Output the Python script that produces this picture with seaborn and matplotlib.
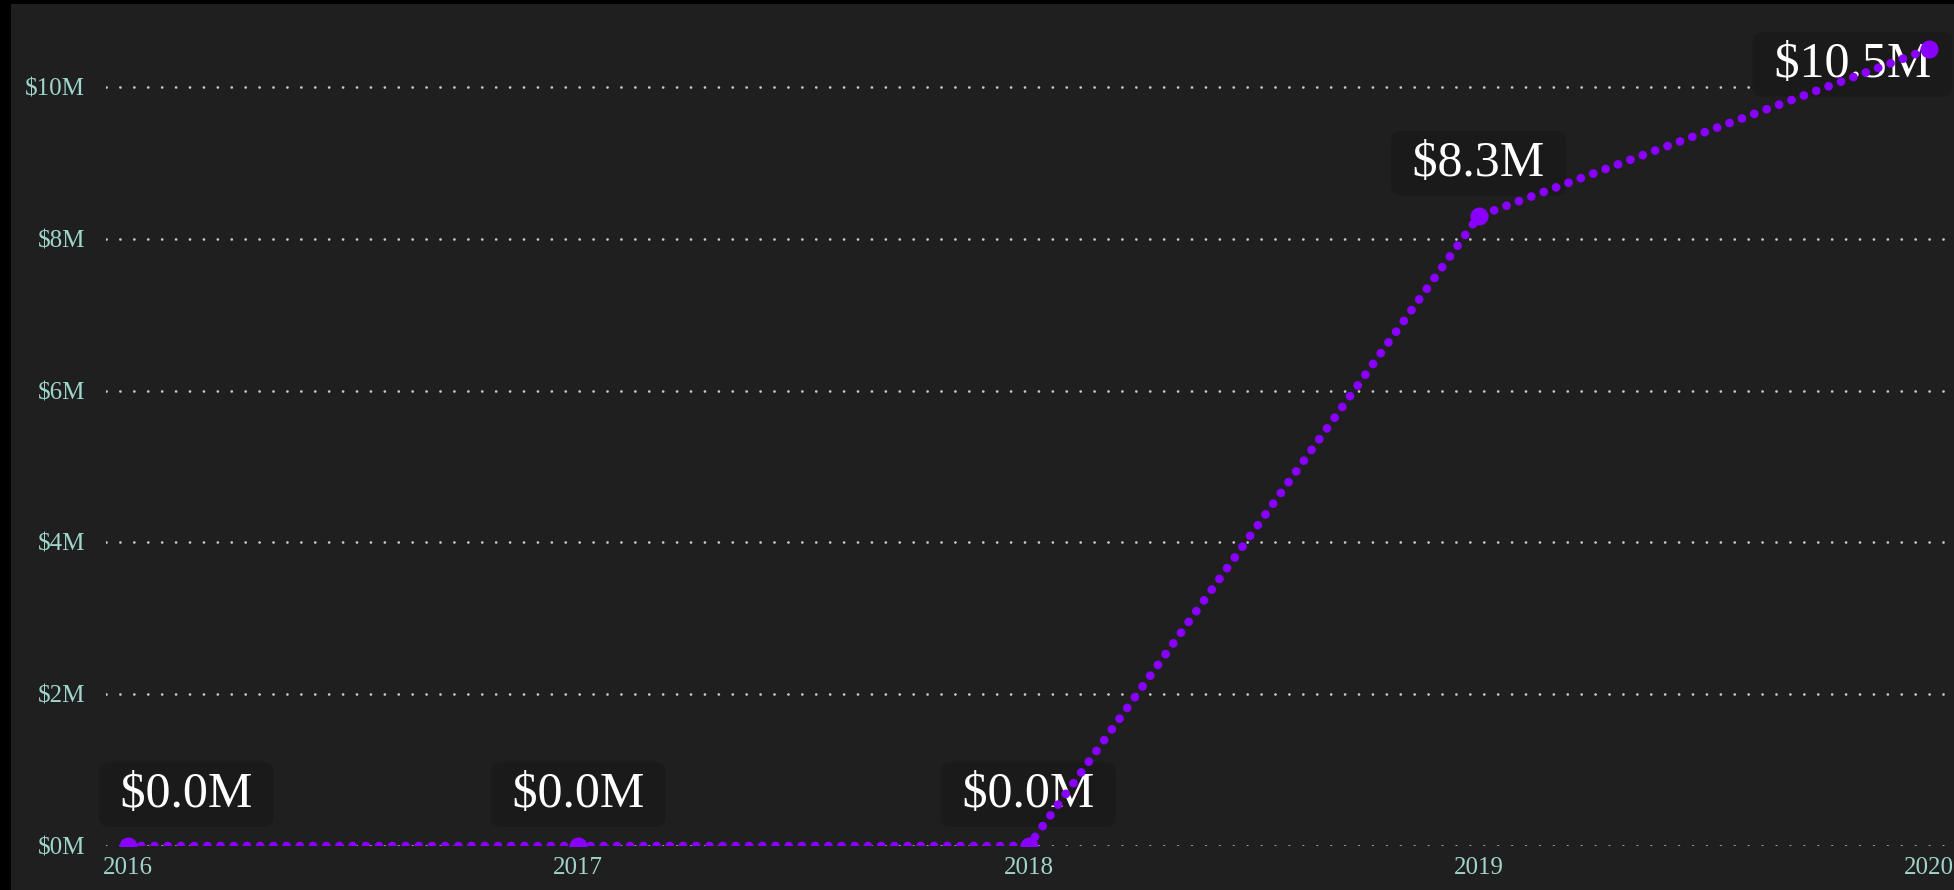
import matplotlib
matplotlib.use("Agg")
import matplotlib.pyplot as plt
from matplotlib.patches import Rectangle
from matplotlib.ticker import FuncFormatter
import seaborn as sns
import pandas as pd

years = [2016, 2017, 2018, 2019, 2020]
amounts = [0.0, 0.0, 0.0, 8.3e6, 10.5e6]
labels = ["$0.0M", "$0.0M", "$0.0M", "$8.3M", "$10.5M"]

bg = "#1f1f1f"
purple = "#8a00ff"
tick_color = "#9fd6cb"

sns.set_theme(style="dark")
plt.rcParams["font.family"] = ["Liberation Serif", "DejaVu Serif"]

df = pd.DataFrame({"year": years, "amount": amounts})

fig = plt.figure(figsize=(19.54, 8.90), dpi=100, facecolor="black")
# dark panel, leaving a thin black band on the left and top
fig.add_artist(Rectangle((11 / 1954, 0), 1, 1 - 4 / 890, transform=fig.transFigure,
                         facecolor=bg, edgecolor="none", zorder=0))

ax = fig.add_axes([106 / 1954, 44 / 890, 1 - 106 / 1954, (846 - 4) / 890])
ax.set_facecolor(bg)
for s in ax.spines.values():
    s.set_visible(False)

sns.lineplot(data=df, x="year", y="amount", ax=ax, color=purple, linewidth=6.3,
             marker="o", markersize=13, markeredgewidth=0, zorder=3)
line = ax.lines[0]
line.set_linestyle((0, (0.01, 1.5)))
line.set_dash_capstyle("round")

ax.set_xlim(2016 - 22 / 450.25, 2016 + (1954 - 128) / 450.25)
ax.set_ylim(0, (846 - 4) / 75.9 * 1e6)
ax.set_xticks(years)
ax.set_xticklabels([str(y) for y in years])
ax.set_yticks([0, 2e6, 4e6, 6e6, 8e6, 10e6])
ax.yaxis.set_major_formatter(FuncFormatter(lambda v, p: f"${v / 1e6:.0f}M"))
ax.tick_params(axis="both", length=0, labelsize=18, colors=tick_color)
ax.tick_params(axis="y", pad=15)
ax.tick_params(axis="x", pad=8)
ax.set_xlabel("")
ax.set_ylabel("")

ax.grid(False)
ax.yaxis.grid(True, color="#c8c8c8", linewidth=2.0, linestyle=(0, (0.01, 5.0)), zorder=1)
for gl in ax.get_ygridlines():
    gl.set_dash_capstyle("round")

# label offsets in points (edge labels pulled inward)
label_offsets = [(42, 37), (0, 37), (0, 37), (0, 38), (-55, -11)]
for x, y, t, off in zip(years, amounts, labels, label_offsets):
    ax.annotate(f" {t} ", (x, y), xytext=off, textcoords="offset points",
                ha="center", va="center", fontsize=36, color="white", zorder=2,
                bbox=dict(boxstyle="round,pad=0.18,rounding_size=0.2",
                          facecolor="#1a1a1a", edgecolor="none"))

fig.savefig("out.png", dpi=100, facecolor=fig.get_facecolor())
